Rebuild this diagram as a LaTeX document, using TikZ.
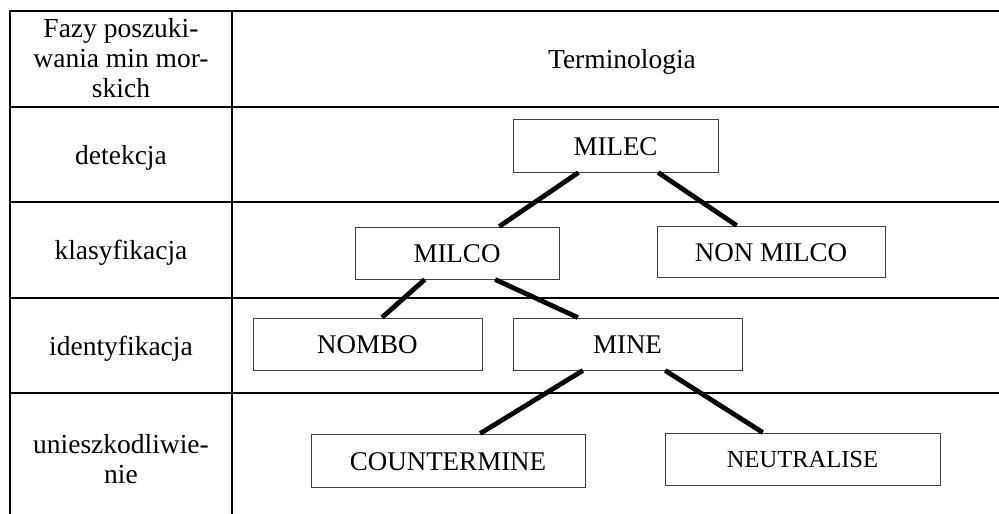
\documentclass[tikz,border=0pt]{standalone}
\usepackage{fontspec}
\setmainfont{Liberation Serif}
\usetikzlibrary{calc}
\begin{document}
\begin{tikzpicture}[x=1pt,y=-1pt,
  grid/.style={line width=2.7pt},
  conn/.style={line width=4.8pt},
  termbox/.style={draw=black!75, line width=1pt, fill=white, inner sep=0pt, font=\fontsize{27}{30}\selectfont},
  phase/.style={inner sep=0pt, align=center, font=\fontsize{27.5}{30}\selectfont}]
\useasboundingbox (0,0) rectangle (999,514);

% table grid
\draw[grid] (999,11) -- (10,11) -- (10,514);
\draw[grid] (232,11) -- (232,514);
\foreach \yy in {107,202,298,393} \draw[grid] (10,\yy) -- (999,\yy);

% left column texts
\node[phase] (hdr) at (121,58) {Fazy poszuki-\\wania min mor-\\skich};
\node[phase, anchor=base] (det) at (121,164) {detekcja};
\node[phase, anchor=base] (kla) at (121,259) {klasyfikacja};
\node[phase, anchor=base] (ide) at (121,355) {identyfikacja};
\node[phase] (uni) at (121,459) {unieszkodliwie-\\nie};
\node[phase, anchor=base] (term) at (622,68) {Terminologia};

% terminology boxes
\node[termbox, minimum width=205pt, minimum height=53pt, text height=19.5pt] (milec) at (615.5,145.5) {MILEC};
\node[termbox, minimum width=204pt, minimum height=52pt, text height=19.5pt] (milco) at (457,253) {MILCO};
\node[termbox, minimum width=228pt, minimum height=51pt, text height=19.5pt] (nonmilco) at (771,251.5) {NON MILCO};
\node[termbox, minimum width=229pt, minimum height=52pt, text height=19.5pt] (nombo) at (367.5,344) {NOMBO};
\node[termbox, minimum width=229pt, minimum height=52pt, text height=19.5pt] (mine) at (627.5,344) {MINE};
\node[termbox, minimum width=274pt, minimum height=53pt, text height=19.5pt] (counter) at (448,460.5) {COUNTERMINE};
\node[termbox, minimum width=275pt, minimum height=52pt, text height=18pt, font=\fontsize{24.5}{30}\selectfont] (neutral) at (802.5,459) {NEUTRALISE};

% connectors
\draw[conn] ($(milec.south west)!0.32!(milec.south east)$) -- ($(milco.north west)!0.706!(milco.north east)$);
\draw[conn] ($(milec.south west)!0.707!(milec.south east)$) -- ($(nonmilco.north west)!0.35!(nonmilco.north east)$);
\draw[conn] ($(milco.south west)!0.343!(milco.south east)$) -- ($(nombo.north west)!0.563!(nombo.north east)$);
\draw[conn] ($(milco.south west)!0.686!(milco.south east)$) -- ($(mine.north west)!0.284!(mine.north east)$);
\draw[conn] ($(mine.south west)!0.306!(mine.south east)$) -- ($(counter.north west)!0.617!(counter.north east)$);
\draw[conn] ($(mine.south west)!0.664!(mine.south east)$) -- ($(neutral.north west)!0.356!(neutral.north east)$);
\end{tikzpicture}
\end{document}
